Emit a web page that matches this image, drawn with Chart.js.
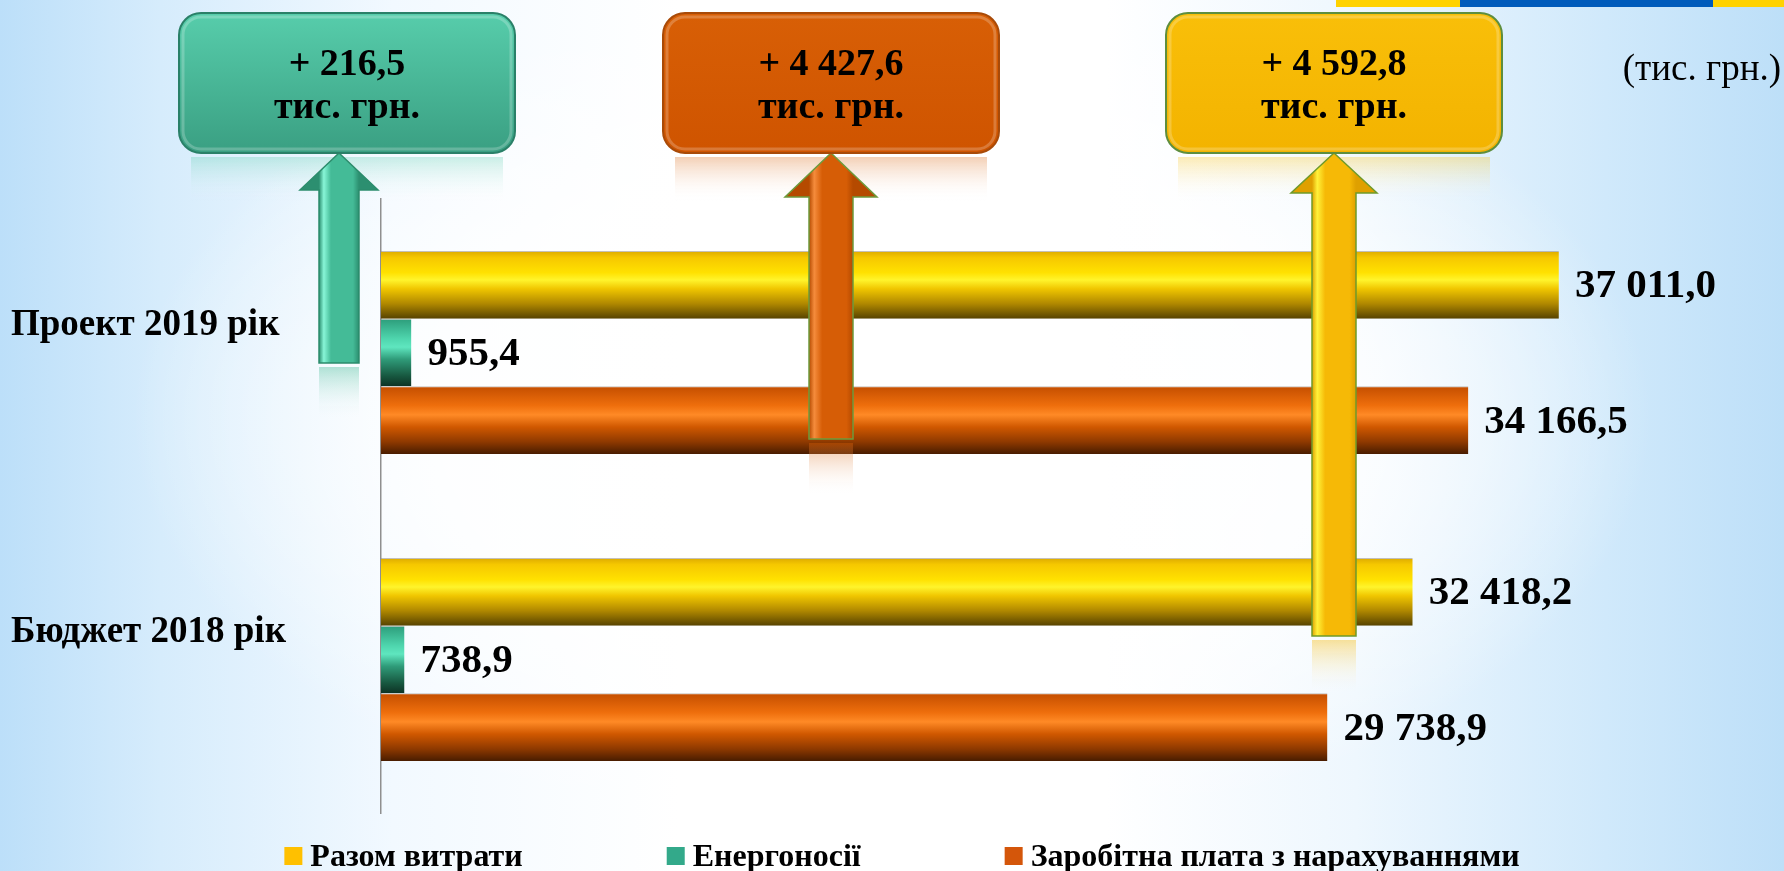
<!DOCTYPE html>
<html lang="uk">
<head>
<meta charset="utf-8">
<title>Витрати: Проект 2019 / Бюджет 2018</title>
<script src="https://cdn.jsdelivr.net/npm/chart.js@4.4.1/dist/chart.umd.min.js"></script>
<style>
  html, body { margin: 0; padding: 0; }
  body {
    width: 1784px; height: 871px; overflow: hidden;
    background:
      radial-gradient(ellipse 760px 430px at 50% 48%, rgba(255,255,255,1) 0%, rgba(255,255,255,0.85) 60%, rgba(255,255,255,0) 100%),
      linear-gradient(90deg, #bcdff9 0%, #d6ecfc 9%, #f2f9ff 22%, #ffffff 38%, #ffffff 62%, #eef7fe 76%, #d0e9fb 90%, #bddff8 100%);
  }
  #wrap { position: relative; width: 1784px; height: 871px; }
</style>
</head>
<body>
<div id="wrap"><canvas id="spend-chart"></canvas></div>
<script>
// --- data (тис. грн.) ---
const categories = ['Проект 2019 рік', 'Бюджет 2018 рік'];
const seriesNames = ['Разом витрати', 'Енергоносії', 'Заробітна плата з нарахуваннями'];
const totalSpend = [37011.0, 32418.2];
const energy = [955.4, 738.9];
const salary = [34166.5, 29738.9];
const unitLabel = '(тис. грн.)';
const changeUnit = 'тис. грн.';

const FONT = "'Liberation Serif', 'Times New Roman', serif";
Chart.defaults.font.family = FONT;

// 37011 -> "37 011,0"
function fmt(v) {
  const [int, dec] = Math.abs(v).toFixed(1).split('.');
  return int.replace(/\B(?=(\d{3})+(?!\d))/g, ' ') + ',' + dec;
}

// Cylinder-like shading for each series (top -> bottom of a bar)
const barShades = [
  [[0, '#dcaa00'], [0.1, '#f6c800'], [0.32, '#ffe100'], [0.43, '#fff42c'], [0.56, '#f0c600'], [0.78, '#b08800'], [1, '#574300']],
  [[0, '#2c9c7a'], [0.3, '#4fd6ae'], [0.42, '#5fe6bf'], [0.6, '#2f9b79'], [0.85, '#17573f'], [1, '#0d3224']],
  [[0, '#c44e00'], [0.28, '#ee6e0c'], [0.42, '#ff8a26'], [0.6, '#d05800'], [0.82, '#8e3900'], [1, '#481c00']]
];

// Callout boxes with arrows (index into datasets, decoration layout in px)
const callouts = [
  { ds: 1, box: 179, arrowX: 339, head: 39, shaft: 20, base: 190, tail: 363,
    fill: ['#57cdab', '#3a9f82'], edge: '#2a8068', arrow: ['#44bb97', '#88f6d7', '#2c8f70'], arrowEdge: '#2b8c6c' },
  { ds: 2, box: 663, arrowX: 831, head: 46, shaft: 22, base: 197, tail: 439,
    fill: ['#d85f06', '#cf5400'], edge: '#a84a08', arrow: ['#d65d06', '#f58c3c', '#b54a00'], arrowEdge: '#6d9a3c' },
  { ds: 0, box: 1166, arrowX: 1334, head: 43, shaft: 22, base: 193, tail: 636,
    fill: ['#f9bf09', '#f3b300'], edge: '#5e8e3e', arrow: ['#f6b906', '#fff23a', '#dfa000'], arrowEdge: '#6f9a2a' }
];
const BOX_TOP = 13, BOX_W = 336, BOX_H = 140;

function roundRect(ctx, x, y, w, h, r) {
  ctx.beginPath();
  ctx.moveTo(x + r, y);
  ctx.arcTo(x + w, y, x + w, y + h, r);
  ctx.arcTo(x + w, y + h, x, y + h, r);
  ctx.arcTo(x, y + h, x, y, r);
  ctx.arcTo(x, y, x + w, y, r);
  ctx.closePath();
}

function arrowPath(ctx, c, tip) {
  ctx.beginPath();
  ctx.moveTo(c.arrowX, tip);
  ctx.lineTo(c.arrowX + c.head, c.base);
  ctx.lineTo(c.arrowX + c.shaft, c.base);
  ctx.lineTo(c.arrowX + c.shaft, c.tail);
  ctx.lineTo(c.arrowX - c.shaft, c.tail);
  ctx.lineTo(c.arrowX - c.shaft, c.base);
  ctx.lineTo(c.arrowX - c.head, c.base);
  ctx.closePath();
}

function fade(ctx, x0, y0, x1, y1, color, alpha) {
  const g = ctx.createLinearGradient(0, y0, 0, y1);
  g.addColorStop(0, color);
  g.addColorStop(1, 'rgba(255,255,255,0)');
  ctx.save();
  ctx.globalAlpha = alpha;
  ctx.fillStyle = g;
  ctx.fillRect(x0, y0, x1 - x0, y1 - y0);
  ctx.restore();
}

function drawCallout(ctx, c, values) {
  const tip = BOX_TOP + BOX_H;
  const cx = c.box + BOX_W / 2;

  // soft reflections under the box and under the arrow
  fade(ctx, c.box + 12, tip + 4, c.box + BOX_W - 12, tip + 48, c.fill[0], 0.3);
  fade(ctx, c.arrowX - c.shaft, c.tail + 4, c.arrowX + c.shaft, c.tail + 56, c.arrow[0], 0.4);

  // arrow
  const ag = ctx.createLinearGradient(c.arrowX - c.shaft, 0, c.arrowX + c.shaft, 0);
  ag.addColorStop(0, c.arrow[2]);
  ag.addColorStop(0.12, c.arrow[1]);
  ag.addColorStop(0.3, c.arrow[0]);
  ag.addColorStop(0.85, c.arrow[0]);
  ag.addColorStop(1, c.arrow[2]);
  arrowPath(ctx, c, tip);
  ctx.fillStyle = ag;
  ctx.fill();
  ctx.lineWidth = 1.5;
  ctx.strokeStyle = c.arrowEdge;
  ctx.stroke();

  // box
  const bg = ctx.createLinearGradient(0, BOX_TOP, 0, BOX_TOP + BOX_H);
  bg.addColorStop(0, c.fill[0]);
  bg.addColorStop(1, c.fill[1]);
  roundRect(ctx, c.box, BOX_TOP, BOX_W, BOX_H, 22);
  ctx.fillStyle = bg;
  ctx.fill();
  ctx.lineWidth = 2;
  ctx.strokeStyle = c.edge;
  ctx.stroke();
  roundRect(ctx, c.box + 4, BOX_TOP + 4, BOX_W - 8, BOX_H - 8, 18);
  ctx.lineWidth = 3;
  ctx.strokeStyle = 'rgba(255,255,255,0.22)';
  ctx.stroke();

  // text
  const diff = values[0] - values[1];
  ctx.fillStyle = '#000';
  ctx.textAlign = 'center';
  ctx.textBaseline = 'alphabetic';
  ctx.font = 'bold 38px ' + FONT;
  ctx.fillText((diff >= 0 ? '+ ' : '- ') + fmt(diff), cx, 75);
  ctx.fillText(changeUnit, cx, 118);
}

const decor = {
  id: 'decor',
  beforeDraw(chart) {
    const ctx = chart.ctx;
    ctx.save();
    ctx.fillStyle = '#ffd200'; ctx.fillRect(1336, 0, 124, 7);
    ctx.fillStyle = '#005bbb'; ctx.fillRect(1460, 0, 253, 7);
    ctx.fillStyle = '#ffd200'; ctx.fillRect(1713, 0, 71, 7);
    ctx.restore();
  },
  beforeDatasetsDraw(chart) {
    const ctx = chart.ctx;
    chart.data.datasets.forEach((ds, di) => {
      chart.getDatasetMeta(di).data.forEach(el => {
        const { y, height } = el.getProps(['y', 'height'], true);
        const top = y - height / 2;
        const g = ctx.createLinearGradient(0, top, 0, top + height);
        barShades[di].forEach(([o, c]) => g.addColorStop(o, c));
        el.options = Object.assign({}, el.options, { backgroundColor: g });
      });
    });
  },
  afterDatasetsDraw(chart) {
    const ctx = chart.ctx;
    ctx.save();

    // value labels at bar ends
    ctx.font = 'bold 41px ' + FONT;
    ctx.fillStyle = '#000';
    ctx.textAlign = 'left';
    ctx.textBaseline = 'middle';
    chart.data.datasets.forEach((ds, di) => {
      chart.getDatasetMeta(di).data.forEach((el, i) => {
        const { x, y } = el.getProps(['x', 'y'], true);
        ctx.fillText(fmt(ds.data[i]), x + 16, y + 2);
      });
    });

    // callouts
    callouts.forEach(c => drawCallout(ctx, c, chart.data.datasets[c.ds].data));

    // unit note
    ctx.font = '37px ' + FONT;
    ctx.textAlign = 'right';
    ctx.textBaseline = 'alphabetic';
    ctx.fillStyle = '#000';
    ctx.fillText(unitLabel, 1781, 80);

    // legend
    ctx.font = 'bold 32px ' + FONT;
    ctx.textBaseline = 'middle';
    ctx.textAlign = 'left';
    const sq = 18, gapText = 8, gapItem = 144;
    const items = chart.data.datasets.map(ds => ({
      text: ds.label, color: ds.backgroundColor,
      w: sq + gapText + ctx.measureText(ds.label).width
    }));
    const total = items.reduce((s, it) => s + it.w, 0) + gapItem * (items.length - 1);
    let lx = 902 - total / 2;
    items.forEach(it => {
      ctx.fillStyle = it.color;
      ctx.fillRect(lx, 847, sq, sq);
      ctx.fillStyle = '#000';
      ctx.fillText(it.text, lx + sq + gapText, 858);
      lx += it.w + gapItem;
    });
    ctx.restore();
  }
};

new Chart(document.getElementById('spend-chart'), {
  type: 'bar',
  data: {
    labels: categories,
    datasets: [
      { label: seriesNames[0], data: totalSpend, backgroundColor: '#ffc000' },
      { label: seriesNames[1], data: energy, backgroundColor: '#33a98a' },
      { label: seriesNames[2], data: salary, backgroundColor: '#d4560a' }
    ]
  },
  options: {
    indexAxis: 'y',
    responsive: true,
    maintainAspectRatio: false,
    animation: false,
    layout: { padding: { left: 11, top: 199, right: 130, bottom: 58 } },
    datasets: {
      bar: {
        categoryPercentage: 0.662,
        barPercentage: 1,
        borderWidth: { top: 1, right: 0, bottom: 0, left: 0 },
        borderColor: 'rgba(150,140,130,0.55)',
        borderSkipped: false
      }
    },
    scales: {
      x: { display: false, min: 0, max: 40000 },
      y: {
        grid: { display: false },
        border: { display: true, color: '#8f8f8f', width: 1.5 },
        ticks: { crossAlign: 'far', labelOffset: -27, color: '#000', font: { size: 37, weight: 'bold' } },
        afterFit: scale => { scale.width = 370; }
      }
    },
    plugins: {
      legend: { display: false },
      tooltip: { enabled: false }
    }
  },
  plugins: [decor]
});
</script>
</body>
</html>
